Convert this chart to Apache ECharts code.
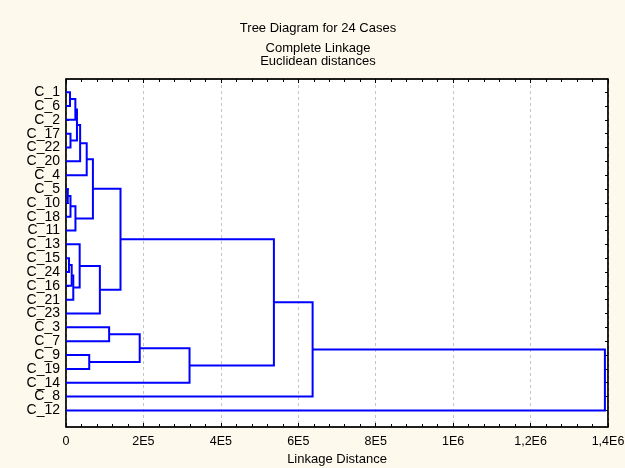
<!DOCTYPE html>
<html>
<head>
<meta charset="utf-8">
<title>Tree Diagram for 24 Cases</title>
<script src="https://cdn.jsdelivr.net/npm/echarts@6/dist/echarts.min.js"></script>
<style>
  html, body { margin: 0; padding: 0; background: #fef9ed; }
  #chart { width: 625px; height: 468px; }
</style>
</head>
<body>
<div id="chart"></div>
<script>
// leaves, top to bottom
const leaves = ["C_1", "C_6", "C_2", "C_17", "C_22", "C_20", "C_4", "C_5", "C_10", "C_18", "C_11",
  "C_13", "C_15", "C_24", "C_16", "C_21", "C_23", "C_3", "C_7", "C_9", "C_19", "C_14", "C_8", "C_12"];

// [left, right, linkage distance]; strings are leaves, numbers point to an earlier merge
const merges = [
  ["C_1", "C_6", 10300],     // 0
  [0, "C_2", 24200],         // 1
  ["C_17", "C_22", 11600],   // 2
  [1, 2, 28300],             // 3
  [3, "C_20", 36500],        // 4
  [4, "C_4", 53500],         // 5
  ["C_5", "C_10", 4600],     // 6
  [6, "C_18", 11600],        // 7
  [7, "C_11", 24400],        // 8
  [5, 8, 69500],             // 9
  ["C_15", "C_24", 7700],    // 10
  [10, "C_16", 14700],       // 11
  [11, "C_21", 18800],       // 12
  ["C_13", 12, 35300],       // 13
  [13, "C_23", 87500],       // 14
  [9, 14, 140800],           // 15
  ["C_3", "C_7", 111400],    // 16
  ["C_9", "C_19", 60000],    // 17
  [16, 17, 190400],          // 18
  [18, "C_14", 319100],      // 19
  [15, 19, 537000],          // 20
  [20, "C_8", 637000],       // 21
  [21, "C_12", 1392000]      // 22
];

const xTickLabels = ["0", "2E5", "4E5", "6E5", "8E5", "1E6", "1,2E6", "1,4E6"];

const font = '"Liberation Sans", Arial, sans-serif';

// build the bracket shapes
const mergePos = [];
const links = [];
function posOf(ref) {
  if (typeof ref === 'string') return [0, leaves.indexOf(ref)];
  return mergePos[ref];
}
merges.forEach(([a, b, h]) => {
  const pa = posOf(a);
  const pb = posOf(b);
  links.push({ coords: [pa, [h, pa[1]], [h, pb[1]], pb] });
  mergePos.push([h, (pa[1] + pb[1]) / 2]);
});

const leafIdx = leaves.map((_, i) => i);

const frame = { show: true, onZero: false, lineStyle: { color: '#000', width: 1.5 } };

function xAxis(pos, labels) {
  return {
    type: 'value',
    position: pos,
    min: 0,
    max: 1400000,
    interval: 200000,
    axisLine: frame,
    axisTick: { show: true, inside: true, length: 4, lineStyle: { color: '#000' } },
    minorTick: { show: true, splitNumber: 5, length: 3, lineStyle: { color: '#000' } },
    splitLine: { show: pos === 'bottom', lineStyle: { color: '#c4c4c4', type: [3, 3], width: 1 } },
    axisLabel: {
      show: labels,
      margin: 8,
      color: '#000',
      fontFamily: font,
      fontSize: 12.5,
      formatter: v => xTickLabels[Math.round(v / 200000)]
    },
    name: labels ? 'Linkage Distance' : '',
    nameLocation: 'middle',
    nameGap: 24,
    nameTextStyle: { color: '#000', fontFamily: font, fontSize: 13 }
  };
}

function yAxis(pos, labels) {
  return {
    type: 'value',
    position: pos,
    inverse: true,
    min: -0.95,
    max: 24.2,
    axisLine: frame,
    axisTick: { show: true, inside: true, length: 3, customValues: leafIdx, lineStyle: { color: '#000' } },
    splitLine: { show: false },
    axisLabel: {
      show: labels,
      margin: 6,
      color: '#000',
      fontFamily: font,
      fontSize: 14,
      customValues: leafIdx,
      formatter: v => leaves[v]
    }
  };
}

const chart = echarts.init(document.getElementById('chart'));
chart.setOption({
  backgroundColor: '#fef9ed',
  animation: false,
  graphic: [
    { type: 'text', x: 318, y: 28, style: { text: 'Tree Diagram for 24 Cases', fill: '#000', font: '13px ' + font, textAlign: 'center', textVerticalAlign: 'middle' } },
    { type: 'text', x: 318, y: 48, style: { text: 'Complete Linkage', fill: '#000', font: '13px ' + font, textAlign: 'center', textVerticalAlign: 'middle' } },
    { type: 'text', x: 318, y: 61, style: { text: 'Euclidean distances', fill: '#000', font: '13px ' + font, textAlign: 'center', textVerticalAlign: 'middle' } }
  ],
  grid: {
    left: 66, right: 17, top: 79, bottom: 41,
    outerBoundsMode: 'none',
    containLabel: false,
    show: true, backgroundColor: '#fff', borderColor: '#000', borderWidth: 1
  },
  xAxis: [xAxis('bottom', true), xAxis('top', false)],
  yAxis: [yAxis('left', true), yAxis('right', false)],
  series: [{
    type: 'lines',
    coordinateSystem: 'cartesian2d',
    xAxisIndex: 0,
    yAxisIndex: 0,
    polyline: true,
    silent: true,
    lineStyle: { color: '#0000ff', width: 2, opacity: 1 },
    data: links
  }]
});
</script>
</body>
</html>
